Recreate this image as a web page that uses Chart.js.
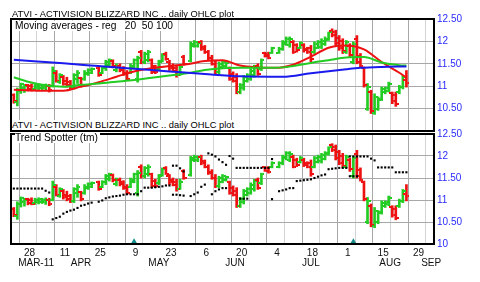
<!DOCTYPE html>
<html>
<head>
<title>ATVI daily OHLC plot</title>
<script src="https://cdn.jsdelivr.net/npm/chart.js@4.4.0/dist/chart.umd.min.js"></script>
<style>
    body { margin: 0; width: 480px; height: 282px; overflow: hidden; position: relative; background: #fff;
           font-family: "Liberation Sans", Arial, sans-serif; }
    .wrap { position: absolute; left: 0; width: 480px; }
    .txt { position: absolute; white-space: pre; color: #000; background: #fff; font-size: 9.3px; line-height: 10px; }
</style>
</head>
<body>
<div class="wrap" style="top:0; height:140px;"><canvas id="topChart"></canvas></div>
<div class="wrap" style="top:125px; height:157px;"><canvas id="botChart"></canvas></div>
<div class="txt" style="left:12px; top:8.5px; background:none;">ATVI - ACTIVISION BLIZZARD INC .. daily OHLC plot</div>
<div class="txt" style="left:15px; top:20.5px; padding-right:2px; font-size:10.2px;">Moving averages - reg   20  50 100</div>
<div class="txt" style="left:12px; top:120px; padding-right:2px;">ATVI - ACTIVISION BLIZZARD INC .. daily OHLC plot</div>
<div class="txt" style="left:15px; top:132.5px; padding-right:2px; font-size:10.2px;">Trend Spotter (tm)</div>

<script>
// trading days
startDate = '2011-03-22';
endDate = '2011-08-24';
holidays = ['2011-04-22', '2011-05-30', '2011-07-04'];

// OHLC, one row per week
high = [10.83, 10.96, 11.07, 11.04,
    11.04, 11.05, 11.04, 11.05, 11.04,
    11.05, 11.04, 11.43, 11.35, 11.28,
    11.24, 11.20, 11.13, 11.28, 11.35,
    11.20, 11.35, 11.39, 11.41,
    11.43, 11.44, 11.58, 11.61, 11.59,
    11.50, 11.50, 11.44, 11.35, 11.50,
    11.61, 11.67, 11.80, 11.76, 11.80,
    11.61, 11.47, 11.58, 11.73, 11.76,
    11.58, 11.50, 11.47, 11.47, 11.69,
    11.99, 12.02, 12.00, 12.02,
    11.91, 11.80, 11.69, 11.58, 11.54,
    11.58, 11.54, 11.43, 11.32, 11.28,
    11.06, 11.24, 11.28, 11.39, 11.47,
    11.50, 11.61, 11.76, 11.76, 11.87,
    11.87, 12.02, 12.10, 12.10,
    12.02, 11.95, 11.99, 11.95, 11.87,
    11.91, 11.99, 12.02, 12.06, 12.10,
    12.21, 12.28, 12.25, 12.13, 12.06,
    12.02, 11.95, 11.99, 12.13, 11.73,
    11.43, 11.06, 10.91, 10.83, 10.76,
    10.98, 10.98, 11.09, 10.87, 10.87,
    11.02, 11.24, 11.35];
low = [10.62, 10.56, 10.84, 10.86,
    10.89, 10.89, 10.90, 10.91, 10.92,
    10.90, 10.87, 10.98, 11.09, 11.06,
    11.02, 10.98, 10.94, 10.94, 11.06,
    10.98, 11.13, 11.24, 11.28,
    11.22, 11.28, 11.35, 11.43, 11.41,
    11.32, 11.32, 11.24, 11.13, 11.28,
    11.39, 11.09, 11.50, 11.50, 11.54,
    11.28, 11.28, 11.35, 11.54, 11.58,
    11.35, 11.32, 11.20, 11.24, 11.47,
    11.54, 11.87, 11.87, 11.80,
    11.73, 11.58, 11.47, 11.28, 11.28,
    11.39, 11.43, 11.13, 11.09, 10.83,
    10.83, 10.91, 11.09, 11.13, 11.20,
    11.24, 11.35, 11.65, 11.61, 11.73,
    11.73, 11.80, 11.91, 11.87,
    11.73, 11.76, 11.84, 11.76, 11.73,
    11.54, 11.73, 11.84, 11.84, 11.91,
    12.02, 12.10, 11.91, 11.80, 11.73,
    11.73, 11.65, 11.50, 11.50, 11.43,
    10.98, 10.46, 10.39, 10.37, 10.46,
    10.68, 10.83, 10.87, 10.61, 10.55,
    10.83, 10.94, 10.98];
open = [10.80, 10.64, 10.90, 10.95,
    11.02, 11.00, 10.94, 10.96, 10.95,
    10.96, 11.00, 11.00, 11.30, 11.10,
    11.20, 11.12, 11.10, 10.98, 11.15,
    11.18, 11.15, 11.28, 11.30,
    11.40, 11.30, 11.40, 11.48, 11.56,
    11.36, 11.46, 11.40, 11.30, 11.30,
    11.42, 11.15, 11.76, 11.55, 11.58,
    11.58, 11.44, 11.38, 11.56, 11.72,
    11.55, 11.46, 11.40, 11.26, 11.65,
    11.56, 11.90, 11.90, 11.98,
    11.88, 11.76, 11.64, 11.50, 11.32,
    11.42, 11.45, 11.40, 11.28, 11.20,
    10.86, 10.95, 11.12, 11.16, 11.24,
    11.46, 11.38, 11.74, 11.72, 11.75,
    11.75, 11.84, 11.95, 11.92,
    11.98, 11.92, 11.86, 11.92, 11.84,
    11.85, 11.76, 11.86, 11.88, 11.94,
    12.04, 12.24, 12.20, 12.08, 12.00,
    11.76, 11.90, 11.55, 12.05, 11.68,
    11.40, 10.50, 10.86, 10.40, 10.50,
    10.72, 10.86, 10.90, 10.84, 10.80,
    10.86, 10.98, 11.14];
close = [10.66, 10.90, 11.04, 11.00,
    10.93, 10.92, 11.01, 11.02, 11.00,
    11.01, 10.92, 11.35, 11.12, 11.24,
    11.06, 11.02, 10.98, 11.24, 11.30,
    11.02, 11.30, 11.36, 11.38,
    11.25, 11.40, 11.55, 11.58, 11.45,
    11.46, 11.36, 11.28, 11.16, 11.46,
    11.58, 11.62, 11.55, 11.72, 11.76,
    11.32, 11.32, 11.54, 11.70, 11.60,
    11.40, 11.35, 11.24, 11.42, 11.50,
    11.95, 11.98, 11.97, 11.84,
    11.76, 11.62, 11.50, 11.32, 11.50,
    11.55, 11.52, 11.16, 11.12, 10.86,
    11.02, 11.20, 11.25, 11.35, 11.44,
    11.28, 11.58, 11.67, 11.64, 11.85,
    11.84, 11.98, 12.06, 12.05,
    11.76, 11.80, 11.96, 11.80, 11.76,
    11.60, 11.95, 11.98, 12.02, 12.06,
    12.20, 12.14, 11.96, 11.85, 11.78,
    11.98, 11.70, 11.95, 11.55, 11.46,
    11.02, 10.98, 10.44, 10.76, 10.70,
    10.94, 10.96, 11.05, 10.66, 10.60,
    10.98, 11.20, 11.08];

// trend spotter stops, same days as the bars (null = no dot)
spotUp = [11.26, 11.26, 11.26, 11.26,
    11.26, 11.26, 11.26, 11.26, 11.26,
    11.21, 11.17, null, null, null,
    null, null, null, null, null,
    null, null, null, null,
    null, null, null, null, null,
    null, null, null, null, null,
    null, null, null, null, null,
    null, null, null, null, null,
    null, 11.78, 11.78, 11.72, 11.65,
    null, null, null, null,
    null, 12.06, 12.03, 11.99, 11.92,
    11.86, 11.80, 12.00, 11.94, 11.73,
    11.73, 11.73, 11.73, 11.73, 11.73,
    11.73, 11.73, 11.73, 11.73, 11.93,
    null, null, null, null,
    null, null, null, null, null,
    null, null, null, null, null,
    null, null, null, null, null,
    null, 11.99, 11.99, 11.99, 11.99,
    11.99, 11.99, 11.94, 11.90, 11.74,
    11.74, 11.74, 11.74, 11.74, 11.63,
    11.63, 11.63, 11.63];
spotDn = [null, null, null, null,
    null, null, null, null, null,
    null, null, 10.56, 10.59, 10.62,
    10.69, 10.73, 10.76, 10.78, 10.82,
    10.87, 10.89, 10.92, 10.94,
    10.96, 10.99, 11.04, 11.06, 11.08,
    11.09, 11.10, 11.12, 11.13, 11.13,
    11.13, 11.13, 11.20, 11.28, 11.28,
    11.28, 11.29, 11.30, 11.31, 11.33,
    11.33, 11.12, 11.12, 11.11, 11.10,
    11.09, 11.13, 11.17, 11.30,
    11.35, null, 11.13, 11.20, 11.24,
    11.27, 11.27, null, null, null,
    11.03, 11.03, 11.03, null, null,
    null, null, null, null, 11.02,
    11.20, 11.22, 11.24, 11.27,
    11.27, 11.43, 11.44, 11.45, 11.46,
    11.47, 11.50, 11.53, 11.56, 11.58,
    11.70, 11.71, 11.72, 11.73, 11.73,
    11.73, 11.54, 11.54, 11.54, null,
    null, null, null, null, null,
    null, null, null, null, null,
    null, null, null];

// moving averages, read at a few days (day 0 = 28 Mar)
maDays = [-4, 0, 5, 10, 15, 20, 25, 30, 35, 40, 45, 50, 55, 60, 65, 70, 75, 80, 85, 90, 95, 100, 105, 107];
ma20 = [10.92, 10.91, 10.90, 10.90, 10.99, 11.09, 11.21, 11.33, 11.40, 11.45, 11.49, 11.56, 11.58, 11.46, 11.42, 11.41, 11.48, 11.66, 11.86, 11.91, 11.82, 11.54, 11.30, 11.19];
ma50 = [11.20, 11.10, 11.02, 10.99, 11.03, 11.06, 11.10, 11.14, 11.19, 11.24, 11.29, 11.36, 11.40, 11.41, 11.41, 11.41, 11.45, 11.52, 11.58, 11.64, 11.65, 11.53, 11.47, 11.46];
ma100Days = [-4, 10, 20, 30, 40, 50, 60, 72, 80, 90, 94, 100, 107];
ma100 = [11.59, 11.51, 11.45, 11.39, 11.33, 11.27, 11.22, 11.21, 11.29, 11.38, 11.41, 11.43, 11.44];

// markers along the bottom
markDays = [30, 92];

// x axis
gridDays = [0, 5, 10, 15, 20, 25, 30, 35, 40, 45, 50, 55, 60, 65, 70, 75, 80, 85, 90, 95, 100, 105, 110];
dayLabels = ['28', '11', '25', '9', '23', '6', '20', '4', '18', '1', '15', '29'];
monthDays = [2.3, 15, 37, 58.5, 80, 102.4, 114];
monthLabels = ['MAR-11', 'APR', 'MAY', 'JUN', 'JUL', 'AUG', 'SEP'];
yTicks = [10, 10.25, 10.5, 10.75, 11, 11.25, 11.5, 11.75, 12, 12.25, 12.5];

GREEN = '#22cc22';
RED = '#ee1111';
XMIN = -4.8;
XMAX = 114.8;

// weekday number counted from Monday 28 Mar 2011
base = Date.UTC(2011, 2, 28);
function dayIndex(t) {
    n = Math.round((t - base) / 86400000);
    w = Math.floor(n / 7);
    return w * 5 + (n - w * 7);
}

days = [];
for (t = Date.parse(startDate + 'T00:00:00Z'); t <= Date.parse(endDate + 'T00:00:00Z'); t += 86400000) {
    d = new Date(t);
    if (d.getUTCDay() == 0 || d.getUTCDay() == 6) continue;
    if (holidays.indexOf(d.toISOString().slice(0, 10)) >= 0) continue;
    days.push(dayIndex(t));
}

barColors = days.map((d, k) => close[k] >= open[k] ? GREEN : RED);

// little tick images for open (left) and close (right)
function tickMark(color, left) {
    c = document.createElement('canvas');
    c.width = 6; c.height = 2;
    g = c.getContext('2d');
    g.fillStyle = color;
    g.fillRect(left ? 0 : 4, 0, 2, 2);
    return c;
}
openMarks = { g: tickMark(GREEN, true), r: tickMark(RED, true) };
closeMarks = { g: tickMark(GREEN, false), r: tickMark(RED, false) };

function ohlcSets() {
    return [
        { type: 'bar', xAxisID: 'x', order: 5, data: days.map((d, k) => ({ x: d, y: [low[k], high[k]] })),
          backgroundColor: barColors, barThickness: 2, grouped: false },
        { type: 'scatter', xAxisID: 'x', order: 4, data: days.map((d, k) => ({ x: d, y: open[k] })),
          pointStyle: days.map((d, k) => barColors[k] == GREEN ? openMarks.g : openMarks.r), pointRadius: 3 },
        { type: 'scatter', xAxisID: 'x', order: 4, data: days.map((d, k) => ({ x: d, y: close[k] })),
          pointStyle: days.map((d, k) => barColors[k] == GREEN ? closeMarks.g : closeMarks.r), pointRadius: 3 }
    ];
}

function maLine(xs, ys, color) {
    return { type: 'line', xAxisID: 'x', order: 1, data: xs.map((d, k) => ({ x: d, y: ys[k] })),
        borderColor: color, borderWidth: 2, pointRadius: 0, tension: 0.4, cubicInterpolationMode: 'monotone' };
}

function dots(vals) {
    pts = [];
    days.forEach((d, k) => { if (vals[k] != null) pts.push({ x: d, y: vals[k] }); });
    return { type: 'scatter', xAxisID: 'x', order: 1, data: pts, pointStyle: 'rect', pointRadius: 1.5,
        backgroundColor: '#000', borderWidth: 0 };
}

function fmt(v) { return Number.isInteger(v) ? String(v) : v.toFixed(2); }

function yScale(hideBottom) {
    return {
        position: 'right', min: 10, max: 12.5,
        afterBuildTicks: s => { s.ticks = yTicks.map(v => ({ value: v })); },
        afterFit: s => { s.width = 46; },
        ticks: { color: '#2b2bff', font: { size: 10, family: 'Liberation Sans' }, padding: 3,
            callback: v => ((v * 2) % 1 != 0 || (hideBottom && v == 10)) ? '' : fmt(v) },
        grid: { drawTicks: false, color: c => (c.tick && (c.tick.value * 2) % 1 == 0) ? '#a8a8a8' : '#d4d4d4' },
        border: { display: false }
    };
}

function xGrid() {
    return { drawTicks: false, color: c => (c.tick && c.index % 2 == 0) ? '#a8a8a8' : '#d4d4d4' };
}

frame = {
    id: 'frame',
    afterDraw(c) {
        a = c.chartArea;
        c.ctx.save();
        c.ctx.strokeStyle = '#000';
        c.ctx.lineWidth = 2;
        c.ctx.strokeRect(a.left, a.top, a.right - a.left, a.bottom - a.top);
        c.ctx.restore();
    }
};

common = { animation: false, responsive: true, maintainAspectRatio: false,
    plugins: { legend: { display: false }, tooltip: { enabled: false } } };

topChart = new Chart(document.getElementById('topChart'), {
    type: 'bar',
    data: { datasets: [
        maLine(ma100Days, ma100, '#1a1aee'),
        maLine(maDays, ma50, '#22cc22'),
        maLine(maDays, ma20, '#ee1111'),
        ...ohlcSets()
    ] },
    options: Object.assign({}, common, {
        layout: { padding: { left: 11, top: 19, right: 0, bottom: 8.5 } },
        scales: {
            x: { type: 'linear', min: XMIN, max: XMAX, offset: false,
                afterBuildTicks: s => { s.ticks = gridDays.map(v => ({ value: v })); },
                afterFit: s => { s.height = 0; },
                ticks: { display: false }, grid: xGrid(), border: { display: false } },
            y: yScale(true)
        }
    }),
    plugins: [frame]
});

botChart = new Chart(document.getElementById('botChart'), {
    type: 'bar',
    data: { datasets: [
        dots(spotUp),
        dots(spotDn),
        { type: 'scatter', xAxisID: 'x', order: 0, data: markDays.map(d => ({ x: d, y: 10.05 })),
          pointStyle: 'triangle', pointRadius: 3.5, backgroundColor: '#11888a', borderWidth: 0 },
        ...ohlcSets()
    ] },
    options: Object.assign({}, common, {
        layout: { padding: { left: 11, top: 6, right: 0, bottom: 15 } },
        scales: {
            x: { type: 'linear', position: 'bottom', min: XMIN, max: XMAX, offset: false,
                afterBuildTicks: s => { s.ticks = gridDays.map(v => ({ value: v })); },
                afterFit: s => { s.height = 13; },
                ticks: { autoSkip: false, maxRotation: 0, padding: 3, color: '#111', labelOffset: 1.5,
                    font: { size: 10, family: 'Liberation Sans' },
                    callback: (v, i) => i % 2 == 0 ? dayLabels[i / 2] : '' },
                grid: xGrid(), border: { display: false } },
            xm: { type: 'linear', position: 'bottom', min: XMIN, max: XMAX, offset: false,
                afterBuildTicks: s => { s.ticks = monthDays.map(v => ({ value: v })); },
                afterFit: s => { s.height = 10; },
                ticks: { autoSkip: false, maxRotation: 0, padding: 0, color: '#111',
                    font: { size: 10, family: 'Liberation Sans' },
                    callback: (v, i) => monthLabels[i] },
                grid: { display: false, drawTicks: false }, border: { display: false } },
            y: yScale(false)
        }
    }),
    plugins: [frame]
});
</script>
</body>
</html>
